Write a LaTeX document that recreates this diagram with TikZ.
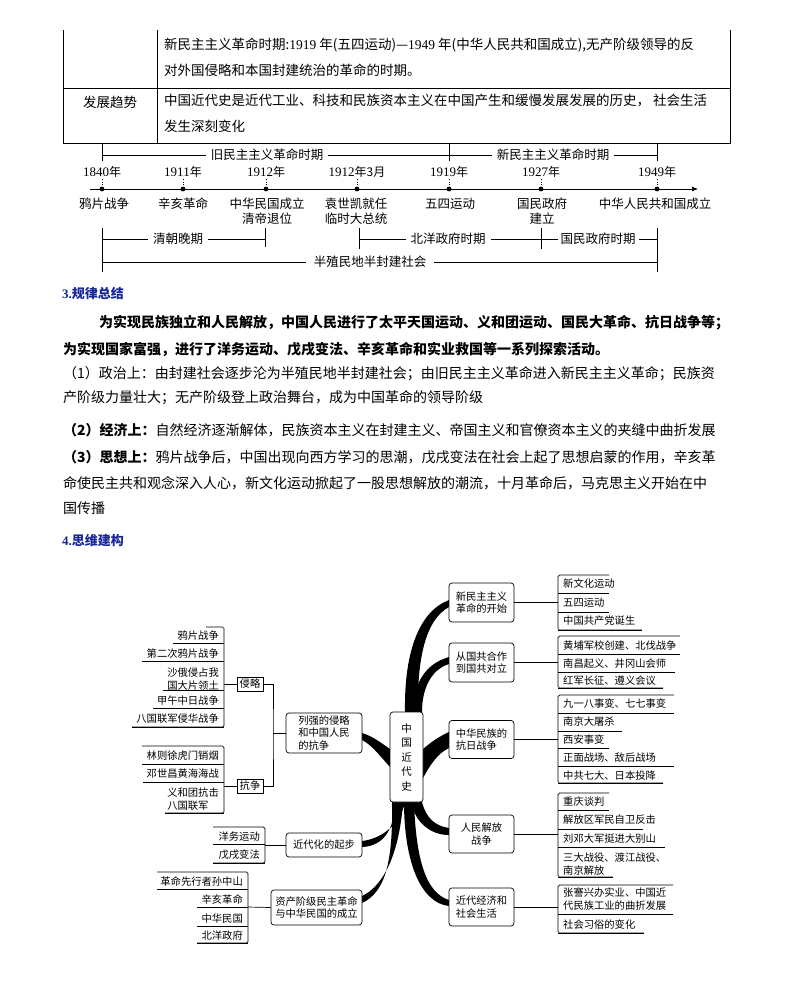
\documentclass[tikz,border=0pt]{standalone}
\usepackage{fontspec}
\setmainfont{Noto Sans CJK SC}
\newfontfamily\nf{Liberation Serif}
\usetikzlibrary{arrows.meta}
\definecolor{hblue}{RGB}{25,40,150}
\newcommand\lfL[6]{\node[lf, anchor=east, align=left] (#6) at (#1-5,#2) {#5};\draw[ln] (#4,#3) -- (#1,#3);}
\newcommand\lfR[6]{\node[lf, anchor=west, align=left] (#6) at (#1+5,#2) {#5};\draw[ln] (#1,#3) -- (#4,#3);}
\begin{document}
\begin{tikzpicture}[x=1pt,y=-1pt,
  ln/.style={line width=0.7pt},
  tb/.style={font=\fontsize{13.5}{16}\selectfont, inner sep=0pt},
  tlf/.style={font=\fontsize{12.5}{15}\selectfont, inner sep=1pt},
  gap/.style={tlf, fill=white, inner xsep=5pt},
  yr/.style={font=\fontsize{12}{14}\selectfont, inner sep=0pt},
  bd/.style={font=\fontsize{14}{16}\selectfont, inner sep=0pt, anchor=west},
  hd/.style={font=\bfseries\fontsize{13}{15}\selectfont, text=hblue, inner sep=0pt, anchor=west},
  lf/.style={font=\fontsize{10.3}{13}\selectfont, inner sep=0pt},
  box/.style={draw, line width=0.7pt, rounded corners=3pt, font=\fontsize{10.3}{12.5}\selectfont, inner sep=2pt},
  sbox/.style={draw, line width=0.7pt, font=\fontsize{10.3}{12}\selectfont, minimum width=26pt, minimum height=14pt, inner sep=0pt},
  br/.style={fill=black}
]
\useasboundingbox (0,0) rectangle (794,990);
\fill[white] (0,0) rectangle (794,990);

% ---------- table ----------
\draw[ln] (63,30) -- (63,143) -- (730,143) -- (730,30);
\draw[ln] (157,30) -- (157,143);
\draw[ln] (63,88) -- (730,88);
\node[tb, anchor=west] (t1) at (164,45) {新民主主义革命时期:{\nf 1919} 年(五四运动)—{\nf 1949} 年(中华人民共和国成立),无产阶级领导的反};
\node[tb, anchor=west] (t2) at (164,70) {对外国侵略和本国封建统治的革命的时期。};
\node[tb] (t3) at (110,102) {发展趋势};
\node[tb, anchor=west] (t4) at (164,101) {中国近代史是近代工业、科技和民族资本主义在中国产生和缓慢发展发展的历史，\ 社会生活};
\node[tb, anchor=west] (t5) at (164,126) {发生深刻变化};

% ---------- timeline ----------
\draw[ln] (102,143) -- (102,161);
\draw[ln] (449,143) -- (449,161);
\draw[ln] (657,143) -- (657,161);
\draw[ln] (102,155) -- (657,155);
\node[gap] (old) at (267,155) {旧民主主义革命时期};
\node[gap] (new) at (553,155) {新民主主义革命时期};
\draw[ln, -{Latex[length=6pt,width=5pt]}] (90,189) -- (698,189);
\foreach \x/\n/\s [count=\i] in {102/1840/年,183/1911/年,266/1912/年,357/1912/年3月,449/1919/年,541/1927/年,657/1949/年}{
  \node[yr] (y\i) at (\x,172) {{\nf\fontsize{13}{14}\selectfont\n}\s};
  \draw[dotted, line width=0.6pt] (\x,179) -- (\x,186);
  \fill (\x,189) circle (2.4);
}
\node[tlf, align=center, anchor=north] (e1) at (104,197) {鸦片战争};
\node[tlf, align=center, anchor=north] (e2) at (183,197) {辛亥革命};
\node[tlf, align=center, anchor=north] (e3) at (267,197) {中华民国成立\\清帝退位};
\node[tlf, align=center, anchor=north] (e4) at (356,197) {袁世凯就任\\临时大总统};
\node[tlf, align=center, anchor=north] (e5) at (450,197) {五四运动};
\node[tlf, align=center, anchor=north] (e6) at (542,197) {国民政府\\建立};
\node[tlf, align=center, anchor=north] (e7) at (655,197) {中华人民共和国成立};
\draw[ln] (102,228) -- (102,272);
\draw[ln] (265,228) -- (265,247);
\draw[ln] (359,228) -- (359,249);
\draw[ln] (541,228) -- (541,249);
\draw[ln] (657,228) -- (657,272);
\draw[ln] (102,239) -- (265,239);
\draw[ln] (359,239) -- (657,239);
\draw[ln] (102,262) -- (657,262);
\node[gap] (q1) at (178,239) {清朝晚期};
\node[gap] (q2) at (448,239) {北洋政府时期};
\node[gap, inner xsep=3pt] (q3) at (598,239) {国民政府时期};
\node[gap, inner xsep=8pt] (q4) at (370,262) {半殖民地半封建社会};

% ---------- section 3 ----------
\node[hd] (h3) at (62,294) {{\nf 3.}规律总结};
\node[bd, font=\bfseries\fontsize{14}{16}\selectfont] (p1) at (99,323) {为实现民族独立和人民解放，中国人民进行了太平天国运动、义和团运动、国民大革命、抗日战争等；};
\node[bd, font=\bfseries\fontsize{14}{16}\selectfont] (p2) at (63,349) {为实现国家富强，进行了洋务运动、戊戌变法、辛亥革命和实业救国等一系列探索活动。};
\node[bd] (p3) at (63,374) {（1）政治上：由封建社会逐步沦为半殖民地半封建社会；由旧民主主义革命进入新民主主义革命；民族资};
\node[bd] (p4) at (63,398) {产阶级力量壮大；无产阶级登上政治舞台，成为中国革命的领导阶级};
\node[bd] (p5) at (63,430) {\textbf{（2）经济上：}自然经济逐渐解体，民族资本主义在封建主义、帝国主义和官僚资本主义的夹缝中曲折发展};
\node[bd] (p6) at (63,457) {\textbf{（3）思想上：}鸦片战争后，中国出现向西方学习的思潮，戊戌变法在社会上起了思想启蒙的作用，辛亥革};
\node[bd] (p7) at (63,483) {命使民主共和观念深入人心，新文化运动掀起了一股思想解放的潮流，十月革命后，马克思主义开始在中};
\node[bd] (p8) at (63,508) {国传播};
\node[hd] (h4) at (62,541) {{\nf 4.}思维建构};

% ---------- mind map: branches ----------
\fill[br] (405,712) .. controls (404,650) and (420,611) .. (449,600) -- (449,607) .. controls (425,620) and (417,660) .. (418,712) -- cycle;
\fill[br] (411,712) .. controls (415,682) and (425,664) .. (449,657) -- (449,664) .. controls (430,670) and (422,690) .. (422,712) -- cycle;
\fill[br] (423,749) .. controls (430,743) and (438,737) .. (449,732) -- (449,748) .. controls (438,753) and (430,765) .. (423,778) -- cycle;
\fill[br] (422,802) .. controls (426,818) and (435,826) .. (449,828) -- (449,835) .. controls (430,835) and (415,822) .. (411,802) -- cycle;
\fill[br] (414,802) .. controls (416,860) and (426,893) .. (449,900) -- (449,906) .. controls (420,903) and (404,860) .. (404,802) -- cycle;
\fill[br] (390,749) .. controls (380,742) and (372,736) .. (362,733) -- (362,740) .. controls (372,745) and (380,756) .. (390,767) -- cycle;
\fill[br] (405,802) .. controls (400,826) and (380,839) .. (362,841) -- (362,847) .. controls (386,846) and (394,826) .. (396,802) -- cycle;
\fill[br] (403,802) .. controls (399,860) and (380,888) .. (362,896) -- (362,903) .. controls (386,892) and (393,860) .. (392,802) -- cycle;

% ---------- mind map: boxes ----------
\node[box, fill=white, minimum width=33pt, minimum height=90pt, align=center, font=\fontsize{10.5}{14.5}\selectfont] (c) at (406.5,757) {中\\国\\近\\代\\史};
\node[box, fill=white, minimum width=76pt, minimum height=40pt, align=left] (L1) at (324,733) {列强的侵略\\和中国人民\\的抗争};
\node[box, fill=white, minimum width=76pt, minimum height=24pt] (L2) at (324,845) {近代化的起步};
\node[box, fill=white, minimum width=91pt, minimum height=35pt, align=center] (L3) at (316.5,907.5) {资产阶级民主革命\\与中华民国的成立};
\node[box, fill=white, minimum width=65pt, minimum height=39pt, align=left] (R1) at (481.5,602.5) {新民主主义\\革命的开始};
\node[box, fill=white, minimum width=65pt, minimum height=39pt, align=left] (R2) at (481.5,662.5) {从国共合作\\到国共对立};
\node[box, fill=white, minimum width=65pt, minimum height=38pt, align=left] (R3) at (481.5,739.5) {中华民族的\\抗日战争};
\node[box, fill=white, minimum width=65pt, minimum height=38pt, align=center] (R4) at (481.5,834) {人民解放\\战争};
\node[box, fill=white, minimum width=65pt, minimum height=38pt, align=left] (R5) at (481.5,907) {近代经济和\\社会生活};
\node[sbox] (qin) at (250,684) {侵略};
\node[sbox] (kang) at (250,786) {抗争};

% connectors
\coordinate (j) at (273,733);
\draw[ln] (qin.east) -| (j) |- (kang.east);
\draw[ln] (j) -- (L1.west);
\draw[ln] (qin.west) -- (224,684);
\draw[ln] (kang.west) -- (224,786);
\draw[ln] (L2.west) -- (265,845);
\draw[ln] (L3.west) -- (248,907);
\draw[ln] (R1.east) -- (558,602.5);
\draw[ln] (R2.east) -- (558,662.5);
\draw[ln] (R3.east) -- (558,739.5);
\draw[ln] (R4.east) -- (558,834);
\draw[ln] (R5.east) -- (558,907);

% ---------- left leaves ----------
\draw[ln, rounded corners=1.5pt] (206,627) -- (224,627) -- (224,727) -- (132,727);
\lfL{224}{636}{643}{173}{鸦片战争}{a1}
\lfL{224}{654}{661}{142}{第二次鸦片战争}{a2}
\lfL{224}{679}{690}{163}{沙俄侵占我\\国大片领土}{a3}
\lfL{224}{701}{708}{153}{甲午中日战争}{a4}
\lfL{224}{719}{727}{132}{八国联军侵华战争}{a5}

\draw[ln, rounded corners=1.5pt] (142,746) -- (224,746) -- (224,813) -- (165,813);
\lfL{224}{756}{764}{142}{林则徐虎门销烟}{b1}
\lfL{224}{774}{782}{143}{邓世昌黄海海战}{b2}
\lfL{224}{799}{813}{165}{义和团抗击\\八国联军}{b3}

\draw[ln, rounded corners=1.5pt] (213,827) -- (265,827) -- (265,863) -- (213,863);
\lfL{265}{837}{844}{213}{洋务运动}{c1}
\lfL{265}{855}{863}{213}{戊戌变法}{c2}

\draw[ln, rounded corners=1.5pt] (157,872) -- (248,872) -- (248,943) -- (197,943);
\lfL{248}{882}{889}{157}{革命先行者孙中山}{d1}
\lfL{248}{900}{907}{197}{辛亥革命}{d2}
\lfL{248}{919}{926}{197}{中华民国}{d3}
\lfL{248}{936}{943}{197}{北洋政府}{d4}

% ---------- right leaves ----------
\draw[ln, rounded corners=1.5pt] (609,575) -- (558,575) -- (558,630) -- (642,630);
\lfR{558}{584}{593}{609}{新文化运动}{r11}
\lfR{558}{603}{612}{609}{五四运动}{r12}
\lfR{558}{621}{630}{642}{中国共产党诞生}{r13}

\draw[ln, rounded corners=1.5pt] (680,636) -- (558,636) -- (558,688) -- (663,688);
\lfR{558}{646}{654}{680}{黄埔军校创建、北伐战争}{r21}
\lfR{558}{664}{672}{675}{南昌起义、井冈山会师}{r22}
\lfR{558}{681}{688}{663}{红军长征、遵义会议}{r23}

\draw[ln, rounded corners=1.5pt] (674,695) -- (558,695) -- (558,783) -- (663,783);
\lfR{558}{704}{713}{674}{九一八事变、七七事变}{r31}
\lfR{558}{722}{731}{622}{南京大屠杀}{r32}
\lfR{558}{740}{748}{609}{西安事变}{r33}
\lfR{558}{758}{766}{674}{正面战场、敌后战场}{r34}
\lfR{558}{776}{783}{663}{中共七大、日本投降}{r35}

\draw[ln, rounded corners=1.5pt] (609,793) -- (558,793) -- (558,877) -- (613,877);
\lfR{558}{802}{810}{609}{重庆谈判}{r41}
\lfR{558}{820}{829}{643}{解放区军民自卫反击}{r42}
\lfR{558}{839}{847}{665}{刘邓大军挺进大别山}{r43}
\lfR{558}{864}{877}{613}{三大战役、渡江战役、\\南京解放}{r44}

\draw[ln, rounded corners=1.5pt] (673,885) -- (558,885) -- (558,933) -- (644,933);
\lfR{558}{899}{914}{673}{张謇兴办实业、中国近\\代民族工业的曲折发展}{r51}
\lfR{558}{925}{933}{644}{社会习俗的变化}{r52}
\end{tikzpicture}
\end{document}
